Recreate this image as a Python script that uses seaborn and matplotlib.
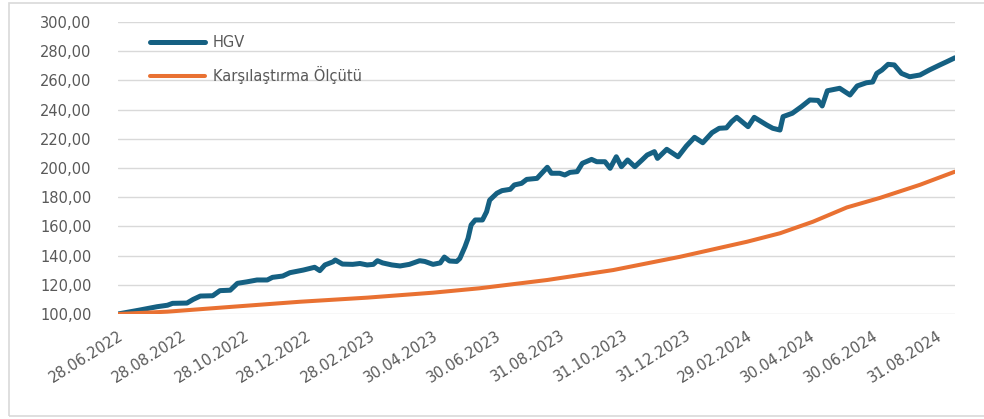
import pandas as pd
import seaborn as sns
import matplotlib.pyplot as plt
from matplotlib.patches import Rectangle
from matplotlib.ticker import FuncFormatter

hgv_dates = [
    "2022-06-28", "2022-07-19", "2022-08-05", "2022-08-15", "2022-08-20", "2022-09-03",
    "2022-09-09", "2022-09-16", "2022-09-28", "2022-10-05", "2022-10-15", "2022-10-22",
    "2022-10-31", "2022-11-10", "2022-11-20", "2022-11-25", "2022-12-05", "2022-12-12",
    "2022-12-25", "2023-01-05", "2023-01-10", "2023-01-15", "2023-01-23", "2023-01-25",
    "2023-02-01", "2023-02-11", "2023-02-18", "2023-02-25", "2023-03-03", "2023-03-07",
    "2023-03-12", "2023-03-21", "2023-03-29", "2023-04-07", "2023-04-17", "2023-04-22",
    "2023-04-30", "2023-05-07", "2023-05-11", "2023-05-16", "2023-05-23", "2023-05-26",
    "2023-05-31", "2023-06-03", "2023-06-06", "2023-06-10", "2023-06-17", "2023-06-21",
    "2023-06-24", "2023-07-01", "2023-07-06", "2023-07-14", "2023-07-18", "2023-07-25",
    "2023-07-30", "2023-08-09", "2023-08-12", "2023-08-19", "2023-08-23", "2023-08-31",
    "2023-09-05", "2023-09-10", "2023-09-17", "2023-09-22", "2023-10-01", "2023-10-06",
    "2023-10-14", "2023-10-19", "2023-10-25", "2023-10-30", "2023-11-05", "2023-11-12",
    "2023-11-19", "2023-11-24", "2023-12-01", "2023-12-04", "2023-12-13", "2023-12-24",
    "2024-01-01", "2024-01-09", "2024-01-17", "2024-01-26", "2024-02-02", "2024-02-09",
    "2024-02-14", "2024-02-19", "2024-03-01", "2024-03-07", "2024-03-19", "2024-03-25",
    "2024-04-01", "2024-04-04", "2024-04-13", "2024-04-22", "2024-04-30", "2024-05-08",
    "2024-05-12", "2024-05-17", "2024-05-29", "2024-06-08", "2024-06-15", "2024-06-24",
    "2024-06-30", "2024-07-04", "2024-07-09", "2024-07-15", "2024-07-21", "2024-07-28",
    "2024-08-05", "2024-08-15", "2024-08-24", "2024-09-03", "2024-09-10", "2024-09-18",
]
hgv_values = [
    100.0, 102.7, 105.0, 106.0, 107.3, 107.5,
    110.0, 112.3, 112.5, 116.0, 116.3, 121.0,
    122.0, 123.3, 123.3, 125.1, 126.0, 128.3,
    130.1, 132.0, 129.7, 133.6, 135.8, 137.0,
    134.2, 134.0, 134.6, 133.6, 134.0, 136.5,
    135.0, 133.6, 132.9, 134.0, 136.5, 136.0,
    134.0, 135.0, 139.0, 136.3, 136.0, 138.0,
    146.0, 151.8, 161.0, 164.4, 164.4, 170.0,
    178.0, 182.7, 184.5, 185.4, 188.4, 189.5,
    192.2, 192.9, 195.2, 200.5, 196.4, 196.4,
    195.2, 197.0, 197.5, 203.2, 205.9, 204.3,
    204.3, 199.8, 207.7, 200.9, 205.5, 200.9,
    205.5, 208.9, 211.2, 206.6, 212.8, 207.7,
    215.0, 221.0, 217.3, 224.2, 227.2, 227.5,
    231.7, 234.7, 228.3, 234.7, 229.5, 227.2,
    226.0, 235.2, 237.5, 242.1, 246.6, 246.3,
    242.5, 252.9, 254.6, 250.0, 256.2, 258.4,
    258.9, 264.8, 267.1, 271.0, 270.6, 264.8,
    262.5, 263.7, 267.1, 270.5, 272.8, 275.5,
]

bench_dates = [
    "2022-06-28", "2022-08-15", "2022-10-18", "2022-12-22", "2023-02-25", "2023-04-30",
    "2023-06-14", "2023-08-19", "2023-10-22", "2023-12-26", "2024-02-29", "2024-04-01",
    "2024-05-03", "2024-06-05", "2024-07-07", "2024-08-15", "2024-09-18",
]
bench_values = [
    100.0, 101.6, 105.0, 108.4, 111.2, 114.6,
    117.6, 123.3, 130.1, 139.2, 149.5, 155.3,
    163.2, 173.0, 179.5, 188.5, 197.5,
]

tick_dates = [
    "2022-06-28", "2022-08-28", "2022-10-28", "2022-12-28", "2023-02-28", "2023-04-30",
    "2023-06-30", "2023-08-31", "2023-10-31", "2023-12-31", "2024-02-29", "2024-04-30",
    "2024-06-30", "2024-08-31",
]
tick_labels = [
    "28.06.2022", "28.08.2022", "28.10.2022", "28.12.2022", "28.02.2023", "30.04.2023",
    "30.06.2023", "31.08.2023", "31.10.2023", "31.12.2023", "29.02.2024", "30.04.2024",
    "30.06.2024", "31.08.2024",
]

hgv = pd.DataFrame({"date": pd.to_datetime(hgv_dates), "value": hgv_values})
bench = pd.DataFrame({"date": pd.to_datetime(bench_dates), "value": bench_values})

sns.set_theme(style="white")
plt.rcParams["font.family"] = ["DejaVu Sans"]
text_color = "#595959"

fig = plt.figure(figsize=(9.84, 4.19), dpi=100)
ax = fig.add_axes([118 / 984, 1 - 314 / 419, (955 - 118) / 984, (314 - 22) / 419])

sns.lineplot(data=hgv, x="date", y="value", ax=ax, color="#156082", lw=3.6,
             label="HGV", solid_capstyle="round", solid_joinstyle="round")
sns.lineplot(data=bench, x="date", y="value", ax=ax, color="#E97132", lw=2.9,
             label="Karşılaştırma Ölçütü", solid_capstyle="round", solid_joinstyle="round")

ax.set_xlim(hgv["date"].min(), hgv["date"].max())
ax.set_ylim(100, 300)
ax.set_yticks(range(100, 301, 20))
ax.yaxis.set_major_formatter(FuncFormatter(lambda v, p: f"{v:.2f}".replace(".", ",")))
ax.set_xticks(pd.to_datetime(tick_dates))
ax.set_xticklabels(tick_labels, rotation=32, ha="right", va="top", rotation_mode="anchor")
ax.tick_params(axis="y", length=0, pad=19, labelsize=10.5, labelcolor=text_color)
ax.tick_params(axis="x", length=0, pad=10, labelsize=10.5, labelcolor=text_color)
ax.set_xlabel("")
ax.set_ylabel("")
ax.grid(axis="y", color="#D9D9D9", lw=1)
ax.grid(axis="x", visible=False)
for s in ax.spines.values():
    s.set_visible(False)

leg = ax.legend(loc="upper left", bbox_to_anchor=(0.038, 0.956), frameon=False,
                borderaxespad=0, borderpad=0, handlelength=3.8, handletextpad=0.5,
                labelspacing=1.1, fontsize=10.5)
for t in leg.get_texts():
    t.set_color(text_color)

fig.patches.append(Rectangle((9 / 984, 3 / 419), 1.0, 413 / 419, transform=fig.transFigure,
                             fill=False, edgecolor="#D9D9D9", lw=1.2))

plt.savefig("out.png", dpi=100)
